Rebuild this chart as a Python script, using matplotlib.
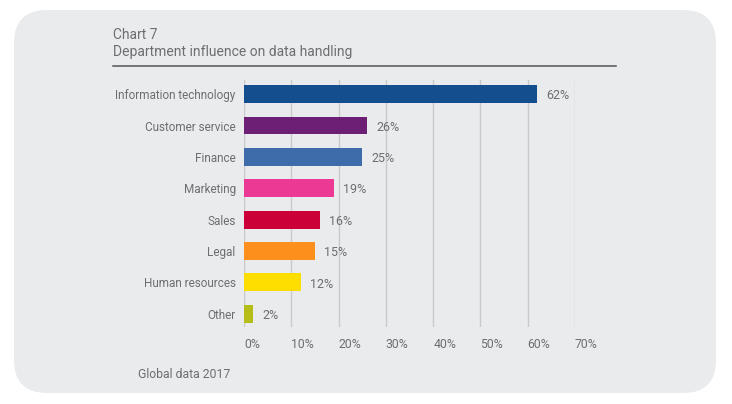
"""
Chart 7 - Department influence on data handling
"""

import matplotlib
matplotlib.use("Agg")
import matplotlib.pyplot as plt
from matplotlib.patches import FancyBboxPatch
from matplotlib.lines import Line2D

# Data
departments = ["Information technology", "Customer service", "Finance", "Marketing",
               "Sales", "Legal", "Human resources", "Other"]
shares = [62, 26, 25, 19, 16, 15, 12, 2]
bar_colors = ["#154e8e", "#6c1f74", "#3e6ba9", "#ec3a94",
              "#cc0038", "#fd8f1d", "#fedd00", "#b5bd18"]
ticks = [0, 10, 20, 30, 40, 50, 60, 70]

plt.rcParams["font.family"] = ["Roboto", "DejaVu Sans"]
text_grey = "#6d6e71"

fig = plt.figure(figsize=(7.32, 4.04), dpi=100)
fig.patch.set_facecolor("white")

# Rounded grey card behind everything
card = FancyBboxPatch((14 / 732, 11 / 404), 702 / 732, 383 / 404,
                      boxstyle="round,pad=0,rounding_size=0.045",
                      transform=fig.transFigure, facecolor="#eaebed",
                      edgecolor="none", zorder=-10, mutation_aspect=732 / 404)
fig.patches.append(card)

# Title block
fig.text(113 / 732, 1 - 35 / 404, "Chart 7", fontsize=10, color=text_grey, va="center")
fig.text(113 / 732, 1 - 52 / 404, "Department influence on data handling",
         fontsize=10, color=text_grey, va="center")
fig.add_artist(Line2D([113 / 732, 616 / 732], [1 - 66 / 404, 1 - 66 / 404],
                      transform=fig.transFigure, color="#555555", lw=1.1))

ax = fig.add_axes([244 / 732, 1 - 327 / 404, 331 / 732, 247 / 404])
ax.set_facecolor("none")

y_pos = list(range(len(departments)))
ax.barh(y_pos, shares, height=0.57, color=bar_colors, zorder=3)
for y, v in zip(y_pos, shares):
    ax.text(v + 2.0, y + 0.05, f"{v}%", va="center", ha="left", fontsize=9,
            color=text_grey)

ax.set_xlim(0, 70)
ax.set_ylim(7.42, -0.45)
ax.set_xticks(ticks)
ax.set_xticklabels([f"{t}%" for t in ticks], fontsize=8.8, color=text_grey)
ax.set_yticks(y_pos)
ax.set_yticklabels(departments, fontsize=8.5, color=text_grey)
ax.tick_params(length=0)
ax.tick_params(axis="y", pad=6)
ax.tick_params(axis="x", pad=8)
for lbl in ax.get_xticklabels():
    lbl.set_horizontalalignment("left")

ax.grid(axis="x", color="#c9c9c9", lw=1, zorder=0)
for s in ax.spines.values():
    s.set_visible(False)

fig.text(138 / 732, 1 - 375 / 404, "Global data 2017", fontsize=8.8,
         color=text_grey, va="center")

plt.savefig("out.png", dpi=100)
